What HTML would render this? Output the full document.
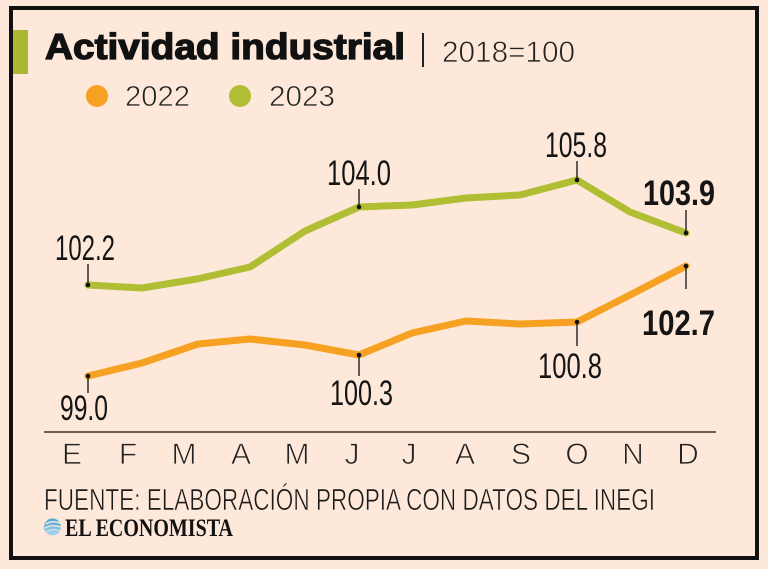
<!DOCTYPE html>
<html><head><meta charset="utf-8"><style>
html,body{margin:0;padding:0;background:#fde8da;}
svg{display:block;}
</style></head><body>
<svg width="768" height="569" viewBox="0 0 768 569" xmlns="http://www.w3.org/2000/svg">
<rect x="0" y="0" width="768" height="569" fill="#fde8da"/>
<rect x="11" y="8" width="746" height="550" fill="#fde8da" stroke="#111" stroke-width="4"/>
<!-- title -->
<rect x="13" y="30" width="15" height="44" fill="#a9b733"/>
<text x="45" y="59" font-family="Liberation Sans, sans-serif" font-weight="bold" font-size="36" fill="#111" stroke="#111" stroke-width="1.3" textLength="360" lengthAdjust="spacingAndGlyphs">Actividad industrial</text>
<rect x="422" y="33" width="2" height="34" fill="#222"/>
<text x="442" y="62" font-family="Liberation Sans, sans-serif" font-size="30" fill="#222" stroke="#fde8da" stroke-width="0.7" textLength="133" lengthAdjust="spacingAndGlyphs">2018=100</text>
<!-- legend -->
<circle cx="97" cy="96" r="11" fill="#f6a122"/>
<text x="125" y="106" font-family="Liberation Sans, sans-serif" font-size="29" fill="#222" stroke="#fde8da" stroke-width="0.7" textLength="65" lengthAdjust="spacingAndGlyphs">2022</text>
<circle cx="240" cy="96" r="11" fill="#afbe33"/>
<text x="269" y="106" font-family="Liberation Sans, sans-serif" font-size="29" fill="#222" stroke="#fde8da" stroke-width="0.7" textLength="66" lengthAdjust="spacingAndGlyphs">2023</text>
<!-- series -->
<polyline fill="none" stroke="#afbe33" stroke-width="7" stroke-linejoin="round" stroke-linecap="round" points="88,285 142,288 197,279 250,267 305,231 359,207 412,205 466,198 520,195 577,180 630,212 686,233"/>
<polyline fill="none" stroke="#f6a122" stroke-width="7" stroke-linejoin="round" stroke-linecap="round" points="88,376 142,363 198,344 250,339 305,345 359,355 412,333 466,321 520,324 577,322 630,295 686,266"/>
<!-- tick leaders -->
<g stroke="#111" stroke-width="1.3">
<line x1="88" y1="264" x2="88" y2="285"/>
<line x1="359" y1="189" x2="359" y2="207"/>
<line x1="577" y1="161" x2="577" y2="180"/>
<line x1="686" y1="210" x2="686" y2="233"/>
<line x1="88" y1="376" x2="88" y2="393"/>
<line x1="359" y1="355" x2="359" y2="376"/>
<line x1="577" y1="322" x2="577" y2="346"/>
<line x1="686" y1="266" x2="686" y2="289"/>
</g>
<g fill="#111">
<circle cx="88" cy="285" r="2.3"/><circle cx="359" cy="207" r="2.3"/><circle cx="577" cy="180" r="2.3"/><circle cx="686" cy="233" r="2.3"/>
<circle cx="88" cy="376" r="2.3"/><circle cx="359" cy="355" r="2.3"/><circle cx="577" cy="322" r="2.3"/><circle cx="686" cy="266" r="2.3"/>
</g>
<!-- value labels -->
<g font-family="Liberation Sans, sans-serif" font-size="35" fill="#151515">
<text x="55" y="260" textLength="60" lengthAdjust="spacingAndGlyphs">102.2</text>
<text x="327" y="185" textLength="64" lengthAdjust="spacingAndGlyphs">104.0</text>
<text x="545" y="157" textLength="62" lengthAdjust="spacingAndGlyphs">105.8</text>
<text x="60" y="420" textLength="48" lengthAdjust="spacingAndGlyphs">99.0</text>
<text x="330" y="405" textLength="63" lengthAdjust="spacingAndGlyphs">100.3</text>
<text x="538" y="378" textLength="64" lengthAdjust="spacingAndGlyphs">100.8</text>
<text x="643" y="205" font-weight="bold" textLength="72" lengthAdjust="spacingAndGlyphs">103.9</text>
<text x="642" y="335" font-weight="bold" textLength="73" lengthAdjust="spacingAndGlyphs">102.7</text>
</g>
<!-- axis -->
<line x1="44" y1="432" x2="716" y2="432" stroke="#6e5e50" stroke-width="2"/>
<g font-family="Liberation Sans, sans-serif" font-size="30" fill="#222" stroke="#fde8da" stroke-width="0.8" text-anchor="middle">
<text x="72" y="464">E</text>
<text x="128" y="464">F</text>
<text x="184" y="464">M</text>
<text x="241" y="464">A</text>
<text x="297" y="464">M</text>
<text x="352" y="464">J</text>
<text x="409" y="464">J</text>
<text x="465" y="464">A</text>
<text x="521" y="464">S</text>
<text x="577" y="464">O</text>
<text x="633" y="464">N</text>
<text x="688" y="464">D</text>
</g>
<!-- footer -->
<text x="44" y="510" font-family="Liberation Sans, sans-serif" font-size="31" fill="#1a1a1a" stroke="#fde8da" stroke-width="0.6" textLength="611" lengthAdjust="spacingAndGlyphs">FUENTE: ELABORACIÓN PROPIA CON DATOS DEL INEGI</text>
<!-- logo -->
<defs><linearGradient id="g" x1="0" y1="0" x2="0" y2="1"><stop offset="0" stop-color="#4aa6d8"/><stop offset="1" stop-color="#a9d8ee"/></linearGradient></defs>
<circle cx="52.5" cy="527" r="8.5" fill="url(#g)"/>
<path d="M46 524 Q52 520 60 523" stroke="#fde8da" stroke-width="1.4" fill="none"/>
<path d="M45 528 Q52 524 61 527" stroke="#fde8da" stroke-width="1.2" fill="none"/>
<path d="M46 532 Q53 528 60 531" stroke="#fde8da" stroke-width="1" fill="none"/>
<text x="65" y="536" font-family="Liberation Serif, serif" font-weight="bold" font-size="25" fill="#111" textLength="168" lengthAdjust="spacingAndGlyphs">EL ECONOMISTA</text>
</svg>
</body></html>
